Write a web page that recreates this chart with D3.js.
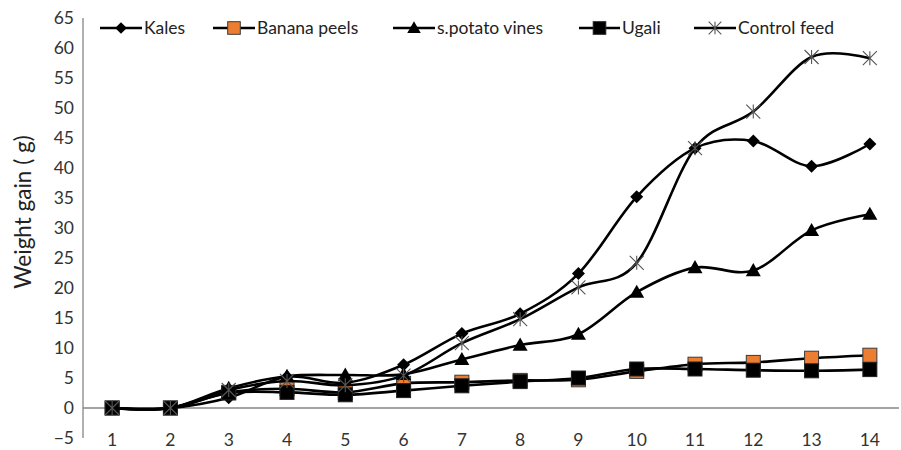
<!DOCTYPE html>
<html>
<head>
<meta charset="utf-8">
<script src="https://cdn.jsdelivr.net/npm/d3@7"></script>
<style>
html,body{margin:0;padding:0;background:#fff;}
svg{display:block;font-family:Lato,"Open Sans",sans-serif;}
</style>
</head>
<body>
<svg id="chart" width="901" height="450"></svg>
<script>
const days = [1,2,3,4,5,6,7,8,9,10,11,12,13,14];
const kales =        [0,0,1.7,5.2,4.2,7.2,12.4,15.7,22.4,35.2,43.3,44.5,40.3,44.0];
const bananaPeels =  [0,0,2.6,3.2,2.6,4.1,4.3,4.6,4.7,6.1,7.3,7.6,8.3,8.8];
const potatoVines =  [0,0,3.3,5.3,5.5,5.6,8.1,10.5,12.3,19.3,23.4,22.9,29.6,32.3];
const ugali =        [0,0,2.5,2.6,2.2,2.9,3.7,4.4,5.0,6.5,6.5,6.3,6.2,6.4];
const controlFeed =  [0,0,3.0,4.5,3.8,5.4,10.8,14.8,20.1,24.2,43.3,49.4,58.5,58.3];
const yTicks = [-5,0,5,10,15,20,25,30,35,40,45,50,55,60,65];
const seriesNames = ["Kales","Banana peels","s.potato vines","Ugali","Control feed"];
const seriesValues = [kales, bananaPeels, potatoVines, ugali, controlFeed];
const markerTypes = ["diamond","square-orange","triangle","square","star"];

const svg = d3.select("#chart");
const x = d3.scalePoint().domain(days).range([83, 899]).padding(0.5);
const y = d3.scaleLinear().domain([-5, 65]).range([438, 18]);
const axisColor = "#868686";
const textColor = "#333";

svg.append("line").attr("x1",83).attr("x2",83).attr("y1",y(65)).attr("y2",y(-5))
  .attr("stroke",axisColor).attr("stroke-width",1.3);
svg.append("line").attr("x1",83).attr("x2",899).attr("y1",y(0)).attr("y2",y(0))
  .attr("stroke",axisColor).attr("stroke-width",1.3);

svg.append("g").selectAll("text").data(yTicks).join("text")
  .attr("x",74).attr("y",d=>y(d)).attr("dy","0.36em")
  .attr("text-anchor","end").attr("font-size",17.5).attr("fill",textColor)
  .text(d=> d<0 ? "\u2212"+Math.abs(d) : d);

svg.append("g").selectAll("text").data(days).join("text")
  .attr("x",d=>x(d)).attr("y",y(-5)+2).attr("dy","0.36em")
  .attr("text-anchor","middle").attr("font-size",17.5).attr("fill",textColor)
  .text(d=>d);

svg.append("text").attr("transform","translate(31,212) rotate(-90)")
  .attr("text-anchor","middle").attr("font-size",22.5).attr("fill","#222")
  .text("Weight gain ( g)");

function drawMarker(g, type, cx, cy, scale) {
  scale = scale || 1;
  if (type === "diamond") {
    const s = 6.5*scale;
    g.append("path").attr("d",`M${cx},${cy-s}L${cx+s},${cy}L${cx},${cy+s}L${cx-s},${cy}Z`).attr("fill","#000");
  } else if (type === "square" || type === "square-orange") {
    const s = 7*scale;
    g.append("rect").attr("x",cx-s).attr("y",cy-s).attr("width",2*s).attr("height",2*s)
      .attr("fill", type==="square" ? "#000" : "#ED7D31")
      .attr("stroke", type==="square" ? "#222" : "#3a3a3a").attr("stroke-width",1);
  } else if (type === "triangle") {
    const s = 7.5*scale;
    g.append("path").attr("d",`M${cx},${cy-s}L${cx+s},${cy+s*0.75}L${cx-s},${cy+s*0.75}Z`).attr("fill","#000");
  } else if (type === "star") {
    const s = 7*scale;
    g.append("path").attr("d",`M${cx-s},${cy-s}L${cx+s},${cy+s}M${cx-s},${cy+s}L${cx+s},${cy-s}M${cx},${cy-s}L${cx},${cy+s}`)
      .attr("stroke","#555").attr("stroke-width",1.1).attr("fill","none");
  }
}

const line = d3.line().x((d,i)=>x(days[i])).y(d=>y(d)).curve(d3.curveCatmullRom.alpha(0));

seriesValues.forEach((vals, si) => {
  const g = svg.append("g");
  g.append("path").datum(vals).attr("d", line)
    .attr("fill","none").attr("stroke","#000").attr("stroke-width",2.6);
  vals.forEach((v,i)=> drawMarker(g, markerTypes[si], x(days[i]), y(v)));
});

const legendItems = [
  {lx:100, tx:144},
  {lx:213, tx:257},
  {lx:393, tx:437},
  {lx:579, tx:622},
  {lx:694, tx:738}
];
const ly = 28;
seriesNames.forEach((name, i) => {
  const g = svg.append("g");
  const it = legendItems[i];
  g.append("line").attr("x1",it.lx).attr("x2",it.tx-2).attr("y1",ly).attr("y2",ly)
    .attr("stroke","#000").attr("stroke-width",2.6);
  drawMarker(g, markerTypes[i], (it.lx+it.tx-2)/2, ly, 0.9);
  g.append("text").attr("x",it.tx).attr("y",ly).attr("dy","0.36em")
    .attr("font-size",17.5).attr("fill","#222").text(name);
});
</script>
</body>
</html>
